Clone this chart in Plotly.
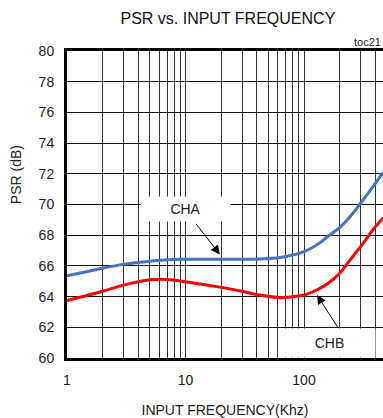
import math
import plotly.graph_objects as go

freq_a = [1, 2, 3, 5, 7, 10, 20, 30, 42, 63, 100, 136, 160, 200, 244, 300, 400, 464]
cha = [65.35, 65.85, 66.1, 66.3, 66.4, 66.43, 66.43, 66.43, 66.45, 66.55, 66.93, 67.5, 67.95, 68.5, 69.2, 70.08, 71.38, 72.07]
freq_b = [1, 2, 3, 5, 7, 10, 20, 30, 42, 63, 81, 100, 128, 160, 200, 244, 300, 400, 464]
chb = [63.75, 64.35, 64.75, 65.1, 65.12, 64.97, 64.6, 64.35, 64.1, 63.93, 64.0, 64.1, 64.43, 64.87, 65.52, 66.38, 67.25, 68.55, 69.1]

x_tickvals = [m * 10 ** d for d in range(3) for m in range(1, 10)]
x_ticktext = [str(v) if m == 1 else "" for v, m in zip(x_tickvals, [m for d in range(3) for m in range(1, 10)])]
y_tickvals = list(range(60, 81, 2))

FONT = "Liberation Sans, Arial, sans-serif"

fig = go.Figure()
fig.add_trace(go.Scatter(x=freq_a, y=cha, mode="lines", line=dict(color="#4472C4", width=3, shape="spline"), name="CHA"))
fig.add_trace(go.Scatter(x=freq_b, y=chb, mode="lines", line=dict(color="#FF0000", width=3, shape="spline"), name="CHB"))

fig.update_layout(
    width=383, height=418,
    margin=dict(l=67, r=0, t=51, b=60),
    paper_bgcolor="white", plot_bgcolor="white",
    showlegend=False,
    font=dict(family=FONT, size=13, color="#222"),
    title=dict(text="PSR vs. INPUT FREQUENCY", x=0.595, xanchor="center", y=0.957, yanchor="middle",
               font=dict(family=FONT, size=16, color="#111")),
)
fig.update_xaxes(
    type="log", range=[0, math.log10(464)],
    tickvals=x_tickvals, ticktext=x_ticktext, ticks="",
    showgrid=True, gridcolor="#333", gridwidth=1,
    showline=True, linecolor="black", linewidth=3, mirror=True,
    zeroline=False, automargin=False, ticklabelstandoff=7,
    title=dict(text="INPUT FREQUENCY(Khz)", font=dict(family=FONT, size=14), standoff=26),
    tickfont=dict(family=FONT, size=14),
)
fig.update_yaxes(
    range=[60, 80], tickvals=y_tickvals, ticks="",
    showgrid=True, gridcolor="#111", gridwidth=1,
    showline=True, linecolor="black", linewidth=3,
    zeroline=False, automargin=False, ticklabelstandoff=7,
    tickfont=dict(family=FONT, size=14),
)

# y-axis title (placed above the axis centre, as in the original)
fig.add_annotation(x=-0.161, y=0.596, xref="paper", yref="paper", xanchor="center", yanchor="middle",
                   text="PSR (dB)", textangle=-90,
                   showarrow=False, font=dict(family=FONT, size=14, color="#222"))
# label boxes
fig.add_annotation(x=0.996, y=69.7, xref="x", yref="y", text="CHA", showarrow=False,
                   bgcolor="white", width=87, height=22, font=dict(family=FONT, size=14, color="#222"))
fig.add_annotation(x=2.219, y=60.98, xref="x", yref="y", text="CHB", showarrow=False,
                   bgcolor="white", width=89, height=26, font=dict(family=FONT, size=14, color="#222"))
# arrows
fig.add_annotation(x=math.log10(19.5), y=66.75, xref="x", yref="y", text="", showarrow=True,
                   ax=-25, ay=-32, arrowhead=2, arrowsize=1.8, arrowwidth=1, arrowcolor="black")
fig.add_annotation(x=math.log10(128.6), y=64.1, xref="x", yref="y", text="", showarrow=True,
                   ax=22, ay=34, arrowhead=2, arrowsize=1.8, arrowwidth=1, arrowcolor="black")
# toc label
fig.add_annotation(x=1, y=1, xref="paper", yref="paper", xanchor="right", yanchor="bottom", yshift=1,
                   text="toc21", showarrow=False, font=dict(family=FONT, size=11, color="#222"))

fig.write_html("out.html", config={"displayModeBar": False},
               post_script="document.body.style.margin='0';")
